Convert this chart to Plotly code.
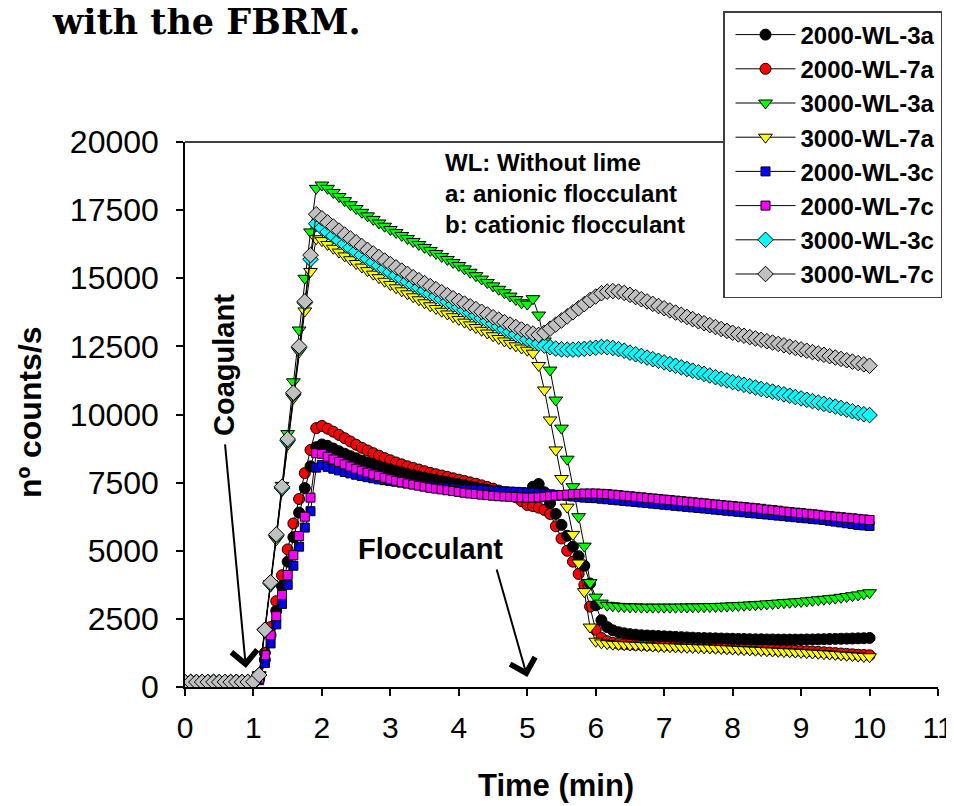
import plotly.graph_objects as go

# FBRM readings every 5 s (1/12 min) from 0 to 10 min
time_min = [round(i / 12, 4) for i in range(121)]

black_2000_3a = (
    [200, 205, 195, 200, 210, 200, 195, 200, 205, 200, 195, 200]
    + [210, 300, 1000, 1900, 2800, 3700, 4600, 5500, 6400, 7300, 8100, 8800]
    + [8900, 8850, 8750, 8650, 8560, 8470, 8390, 8310, 8240, 8170, 8100, 8040]
    + [7980, 7920, 7870, 7820, 7770, 7720, 7680, 7640, 7600, 7560, 7520, 7480]
    + [7440, 7400, 7360, 7320, 7280, 7240, 7200, 7160, 7120, 7080, 7040, 7000]
    + [6960, 7350, 7450, 7150, 6750, 6350, 5950, 5550, 5150, 4800, 4450, 3800]
    + [3000, 2450, 2200, 2080, 2010, 1970, 1940, 1920, 1900, 1890, 1880, 1870]
    + [1860, 1850, 1840, 1830, 1820, 1810, 1800, 1795, 1790, 1785, 1780, 1775]
    + [1770, 1765, 1760, 1755, 1750, 1750, 1745, 1745, 1740, 1740, 1740, 1740]
    + [1740, 1745, 1745, 1750, 1755, 1760, 1765, 1770, 1775, 1780, 1785, 1790]
    + [1800]
)
red_2000_7a = (
    [190, 200, 200, 195, 205, 200, 200, 195, 200, 205, 200, 200]
    + [200, 350, 1250, 2200, 3150, 4100, 5050, 6000, 6900, 7850, 8700, 9500]
    + [9580, 9480, 9370, 9250, 9130, 9010, 8890, 8780, 8680, 8580, 8490, 8400]
    + [8320, 8240, 8170, 8100, 8040, 7980, 7920, 7860, 7810, 7760, 7710, 7660]
    + [7610, 7560, 7510, 7460, 7400, 7340, 7280, 7210, 7140, 7060, 6960, 6820]
    + [6680, 6640, 6580, 6500, 6350, 5900, 5450, 5000, 4600, 4150, 3750, 2950]
    + [2100, 1800, 1680, 1620, 1590, 1570, 1560, 1550, 1545, 1540, 1535, 1530]
    + [1525, 1520, 1515, 1510, 1505, 1500, 1495, 1490, 1480, 1470, 1460, 1450]
    + [1440, 1430, 1420, 1410, 1400, 1390, 1380, 1370, 1360, 1350, 1340, 1330]
    + [1320, 1310, 1300, 1290, 1275, 1260, 1245, 1230, 1215, 1200, 1185, 1175]
    + [1165]
)
green_3000_3a = (
    [180, 185, 180, 190, 180, 185, 180, 180, 185, 180, 190, 180]
    + [190, 450, 2000, 3800, 5500, 7400, 9300, 11200, 13100, 15000, 16700, 18300]
    + [18420, 18300, 18150, 18000, 17850, 17700, 17560, 17420, 17290, 17160, 17030, 16910]
    + [16790, 16680, 16570, 16460, 16350, 16240, 16130, 16020, 15910, 15800, 15690, 15580]
    + [15470, 15345, 15220, 15095, 14970, 14845, 14720, 14595, 14470, 14345, 14220, 14100]
    + [14050, 14250, 13650, 12700, 11630, 10530, 9500, 8360, 7350, 6250, 5170, 3830]
    + [3300, 3080, 3000, 2980, 2960, 2950, 2940, 2940, 2930, 2930, 2930, 2930]
    + [2930, 2930, 2930, 2935, 2935, 2940, 2940, 2945, 2950, 2955, 2960, 2970]
    + [2980, 2990, 3000, 3010, 3020, 3035, 3050, 3065, 3080, 3095, 3110, 3125]
    + [3140, 3160, 3180, 3200, 3220, 3240, 3260, 3290, 3320, 3350, 3380, 3420]
    + [3460]
)
yellow_3000_7a = (
    [190, 180, 185, 190, 185, 180, 185, 190, 180, 185, 190, 185]
    + [190, 430, 2050, 3700, 5400, 7200, 8900, 10600, 12300, 13800, 15250, 16450]
    + [16380, 16240, 16100, 15960, 15820, 15680, 15540, 15410, 15280, 15150, 15020, 14890]
    + [14770, 14650, 14540, 14430, 14320, 14210, 14100, 13990, 13890, 13790, 13690, 13590]
    + [13490, 13390, 13290, 13190, 13090, 12990, 12890, 12790, 12700, 12610, 12520, 12440]
    + [12360, 12250, 11800, 10900, 9800, 8700, 7650, 6600, 5600, 4550, 3500, 2200]
    + [1680, 1620, 1590, 1570, 1560, 1550, 1540, 1530, 1520, 1510, 1500, 1490]
    + [1480, 1475, 1470, 1460, 1455, 1450, 1440, 1435, 1430, 1420, 1410, 1400]
    + [1390, 1380, 1370, 1360, 1350, 1340, 1330, 1320, 1310, 1300, 1290, 1280]
    + [1270, 1260, 1245, 1235, 1220, 1210, 1195, 1180, 1165, 1150, 1135, 1120]
    + [1110]
)
blue_2000_3c = (
    [200, 195, 200, 205, 200, 195, 200, 200, 205, 200, 195, 200]
    + [200, 250, 880, 1600, 2300, 3050, 3750, 4450, 5150, 5850, 6450, 8050]
    + [8150, 8080, 8010, 7950, 7890, 7840, 7790, 7740, 7700, 7660, 7620, 7590]
    + [7560, 7530, 7500, 7470, 7440, 7410, 7390, 7370, 7350, 7330, 7310, 7290]
    + [7270, 7250, 7240, 7230, 7220, 7210, 7200, 7190, 7180, 7170, 7160, 7150]
    + [7140, 7130, 7110, 7090, 7070, 7050, 7030, 7010, 6990, 6970, 6950, 6940]
    + [6930, 6910, 6890, 6870, 6850, 6830, 6810, 6790, 6770, 6750, 6730, 6710]
    + [6690, 6670, 6650, 6630, 6610, 6590, 6570, 6550, 6530, 6510, 6490, 6470]
    + [6450, 6430, 6410, 6390, 6370, 6350, 6330, 6310, 6290, 6270, 6250, 6230]
    + [6210, 6190, 6170, 6150, 6130, 6100, 6070, 6040, 6010, 5980, 5950, 5930]
    + [5910]
)
magenta_2000_7c = (
    [205, 200, 200, 200, 195, 200, 205, 200, 200, 195, 200, 200]
    + [200, 300, 1170, 1900, 2600, 3380, 4110, 4840, 5540, 6250, 6950, 8580]
    + [8560, 8450, 8350, 8260, 8170, 8090, 8010, 7940, 7870, 7800, 7740, 7680]
    + [7620, 7570, 7520, 7470, 7430, 7390, 7350, 7310, 7280, 7250, 7220, 7190]
    + [7160, 7130, 7100, 7080, 7060, 7040, 7020, 7000, 6990, 6980, 6970, 6960]
    + [6950, 6950, 6960, 6980, 7000, 7020, 7040, 7060, 7080, 7090, 7100, 7100]
    + [7100, 7090, 7080, 7060, 7040, 7020, 7000, 6980, 6960, 6940, 6920, 6900]
    + [6880, 6860, 6840, 6820, 6800, 6780, 6760, 6740, 6720, 6700, 6680, 6660]
    + [6640, 6620, 6600, 6580, 6560, 6540, 6510, 6490, 6470, 6440, 6420, 6400]
    + [6380, 6360, 6340, 6320, 6290, 6270, 6250, 6230, 6210, 6190, 6170, 6150]
    + [6130]
)
cyan_3000_3c = (
    [185, 190, 185, 180, 185, 190, 185, 180, 185, 190, 185, 185]
    + [190, 440, 2100, 3800, 5550, 7300, 9050, 10750, 12450, 14100, 15700, 17000]
    + [16850, 16700, 16550, 16400, 16260, 16120, 15980, 15850, 15720, 15590, 15460, 15340]
    + [15220, 15100, 14990, 14880, 14770, 14660, 14550, 14440, 14340, 14240, 14140, 14040]
    + [13940, 13840, 13740, 13640, 13540, 13440, 13340, 13240, 13140, 13040, 12940, 12850]
    + [12760, 12680, 12600, 12530, 12470, 12420, 12390, 12380, 12380, 12390, 12410, 12430]
    + [12450, 12480, 12470, 12440, 12400, 12340, 12270, 12210, 12150, 12090, 12030, 11970]
    + [11910, 11850, 11790, 11730, 11670, 11610, 11550, 11490, 11430, 11370, 11310, 11250]
    + [11190, 11140, 11090, 11040, 10990, 10940, 10890, 10840, 10790, 10740, 10690, 10640]
    + [10590, 10540, 10490, 10440, 10390, 10340, 10290, 10240, 10180, 10120, 10060, 10010]
    + [9980]
)
gray_3000_7c = (
    [180, 185, 180, 185, 180, 185, 180, 185, 180, 185, 180, 185]
    + [190, 440, 2100, 3840, 5600, 7350, 9100, 10800, 12500, 14150, 15850, 17350]
    + [17200, 17050, 16900, 16750, 16600, 16460, 16320, 16180, 16040, 15910, 15780, 15650]
    + [15520, 15400, 15280, 15160, 15040, 14930, 14820, 14710, 14600, 14490, 14380, 14270]
    + [14170, 14070, 13970, 13870, 13770, 13670, 13570, 13480, 13390, 13300, 13210, 13120]
    + [13040, 12970, 12920, 13000, 13150, 13300, 13450, 13600, 13750, 13900, 14050, 14200]
    + [14330, 14450, 14510, 14530, 14510, 14460, 14390, 14310, 14230, 14150, 14060, 13980]
    + [13900, 13820, 13740, 13660, 13580, 13500, 13420, 13350, 13280, 13210, 13140, 13070]
    + [13000, 12940, 12890, 12840, 12790, 12740, 12690, 12640, 12590, 12540, 12490, 12440]
    + [12390, 12340, 12290, 12240, 12190, 12140, 12090, 12040, 11990, 11940, 11890, 11840]
    + [11790]
)

x_ticks = list(range(0, 12))
y_ticks = [0, 2500, 5000, 7500, 10000, 12500, 15000, 17500, 20000]

SANS = "Liberation Sans, Arial, sans-serif"

# (name, values, symbol, size, fill colour, legend rank); drawn in this order
series = [
    ("2000-WL-7a", red_2000_7a, "circle", 11, "#FF0000", 2),
    ("2000-WL-3a", black_2000_3a, "circle", 11, "#000000", 1),
    ("3000-WL-3a", green_3000_3a, "triangle-down", 12, "#00FF00", 3),
    ("3000-WL-7a", yellow_3000_7a, "triangle-down", 12, "#FFFF00", 4),
    ("2000-WL-3c", blue_2000_3c, "square", 9, "#0000FF", 5),
    ("2000-WL-7c", magenta_2000_7c, "square", 9, "#FF00FF", 6),
    ("3000-WL-3c", cyan_3000_3c, "diamond", 12, "#00FFFF", 7),
    ("3000-WL-7c", gray_3000_7c, "diamond", 12, "#C0C0C0", 8),
]

fig = go.Figure()
for name, vals, sym, size, col, rank in series:
    fig.add_trace(go.Scatter(
        x=time_min, y=vals, name=name, mode="lines+markers",
        line=dict(color="black", width=1),
        marker=dict(symbol=sym, size=size, color=col,
                    line=dict(color="black", width=1)),
        legendrank=rank,
    ))

# the page adds an 8 px body margin, so the figure is laid out 8 px up/left
OFF = 8
W, H = 954 - OFF, 806 - OFF
L, T = 185 - OFF, 142 - OFF
R = W - (938.5 - OFF)
B = H - (687 - OFF)
PW, PH = W - L - R, H - T - B


def px(x):  # reference-page pixel -> paper x
    return (x - OFF - L) / PW


def py(y):  # reference-page pixel -> paper y
    return (H - B - (y - OFF)) / PH


axis_common = dict(
    showline=True, linecolor="black", linewidth=1.5,
    ticks="outside", ticklen=7, tickwidth=1.5, tickcolor="black",
    showgrid=False, zeroline=False,
)

annotations = [
    dict(text="<b>with the FBRM.</b>", x=px(50), y=py(21), xanchor="left",
         yanchor="middle", font=dict(family="DejaVu Serif, serif", size=35,
                                     color="black")),
    dict(text="<b>nº counts/s</b>", x=px(30), y=py(412), textangle=-90,
         xanchor="center", yanchor="middle",
         font=dict(family=SANS, size=32, color="black")),
    dict(text="<b>Time (min)</b>", x=px(556), y=py(785), xanchor="center",
         yanchor="middle", font=dict(family=SANS, size=31, color="black")),
    dict(text="<b>WL: Without lime<br>a: anionic flocculant<br>b: cationic flocculant</b>",
         x=px(443), y=py(147), xanchor="left", yanchor="top", align="left",
         font=dict(family=SANS, size=24, color="black")),
    dict(text="<b>Coagulant</b>", x=px(224), y=py(365), textangle=-90,
         xanchor="center", yanchor="middle",
         font=dict(family=SANS, size=29, color="black")),
    dict(text="<b>Flocculant</b>", x=px(431), y=py(549), xanchor="center",
         yanchor="middle", font=dict(family=SANS, size=29, color="black")),
]
for d in annotations:
    d.update(xref="paper", yref="paper", showarrow=False)

# arrows (tip in data coordinates, tail offset in pixels)
for tip_x, tip_y, ax, ay in [(0.89, 700, -21, -225), (5.0, 370, -31, -109)]:
    annotations.append(dict(
        x=tip_x, y=tip_y, xref="x", yref="y", text="", showarrow=True,
        ax=ax, ay=ay, arrowhead=4, arrowsize=2.5, arrowwidth=2,
        arrowcolor="black"))

fig.update_layout(
    width=W, height=H,
    margin=dict(l=L, r=R, t=T, b=B, autoexpand=False),
    paper_bgcolor="white", plot_bgcolor="white",
    xaxis=dict(range=[0, 11], tickvals=x_ticks,
               ticktext=[str(v) for v in x_ticks], ticklabelstandoff=6,
               tickfont=dict(family=SANS, size=30, color="black"),
               **axis_common),
    yaxis=dict(range=[0, 20000], tickvals=y_ticks,
               ticktext=[str(v) for v in y_ticks], ticklabelstandoff=11,
               tickfont=dict(family=SANS, size=32, color="black"),
               **axis_common),
    shapes=[dict(type="line", xref="paper", yref="paper", x0=0, x1=1,
                 y0=1, y1=1, line=dict(color="black", width=1.5),
                 layer="above")],
    legend=dict(
        xref="container", yref="container", x=(723 - OFF) / W,
        y=1 - (11 - OFF) / H, xanchor="left", yanchor="top",
        bgcolor="white", bordercolor="#404040", borderwidth=1.5,
        font=dict(family=SANS, size=24, color="black", weight="bold"),
        itemwidth=60, tracegroupgap=0, indentation=6,
    ),
    annotations=annotations,
    showlegend=True,
)

fig.write_html("out.html")
